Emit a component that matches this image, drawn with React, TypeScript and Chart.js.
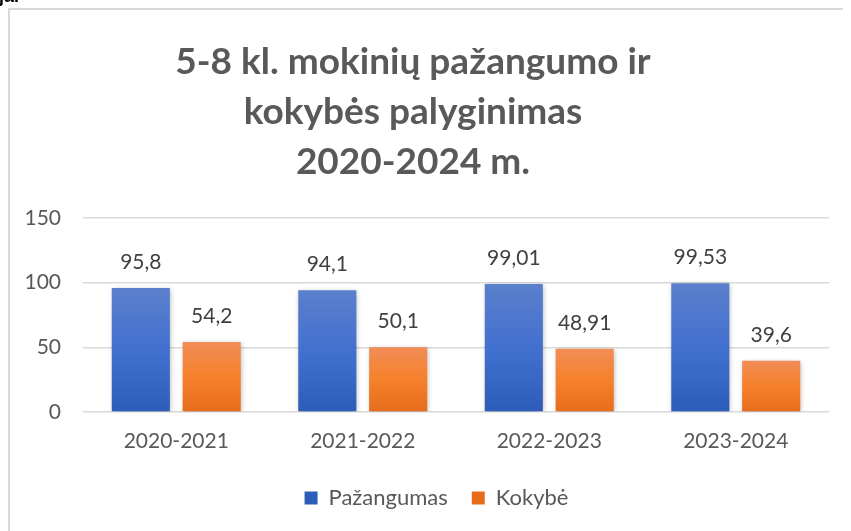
import React, { useEffect, useRef } from "react";
import { Chart, registerables } from "chart.js";

Chart.register(...registerables);

const categories = ["2020-2021", "2021-2022", "2022-2023", "2023-2024"];
const pazangumas = [95.8, 94.1, 99.01, 99.53];
const kokybe = [54.2, 50.1, 48.91, 39.6];
const seriesNames = ["Pažangumas", "Kokybė"];
const titleLines = ["5-8 kl. mokinių pažangumo ir", "kokybės palyginimas", "2020-2024 m."];
const yTicks = { min: 0, max: 150, step: 50 };

const FONT = "Lato, 'Open Sans', sans-serif";
const TEXT = "#595959";

const gradient = (c1: string, c2: string, c3: string) => (ctx: any) => {
  const chart = ctx.chart;
  const y = chart.scales && chart.scales.y;
  if (!y || ctx.type !== "data") return c2;
  const top = y.getPixelForValue(ctx.raw);
  const base = y.getPixelForValue(0);
  if (!isFinite(top) || !isFinite(base) || top === base) return c2;
  const g = chart.ctx.createLinearGradient(0, top, 0, base);
  g.addColorStop(0, c1);
  g.addColorStop(0.5, c2);
  g.addColorStop(1, c3);
  return g;
};

const shadowPlugin = {
  id: "barShadow",
  beforeDatasetsDraw(chart: any) {
    const c = chart.ctx;
    c.save();
    c.shadowColor = "rgba(0,0,0,0.28)";
    c.shadowBlur = 5;
    c.shadowOffsetX = 1;
    c.shadowOffsetY = 1;
  },
  afterDatasetsDraw(chart: any) {
    chart.ctx.restore();
  },
};

const legendShiftPlugin = {
  id: "legendShift",
  afterLayout(chart: any) {
    const l = chart.legend;
    if (l) {
      l.left += 17;
      l.right += 17;
    }
  },
};

const labelPlugin = {
  id: "valueLabels",
  afterDraw(chart: any) {
    const c = chart.ctx;
    c.save();
    c.font = `21px ${FONT}`;
    c.fillStyle = "#404040";
    c.textAlign = "center";
    c.textBaseline = "middle";
    chart.data.datasets.forEach((ds: any, di: number) => {
      const meta = chart.getDatasetMeta(di);
      meta.data.forEach((el: any, i: number) => {
        const txt = String(ds.data[i]).replace(".", ",");
        c.fillText(txt, el.x, el.y - 26);
      });
    });
    c.restore();
  },
};

export default function App() {
  const ref = useRef<HTMLCanvasElement | null>(null);
  useEffect(() => {
    document.body.style.overflow = "hidden";
    const chart = new Chart(ref.current as HTMLCanvasElement, {
      type: "bar",
      data: {
        labels: categories,
        datasets: [
          {
            label: seriesNames[0],
            data: pazangumas,
            backgroundColor: gradient("#5b80cc", "#4270cf", "#2d5db8"),
            borderWidth: 0,
            categoryPercentage: 0.76,
            barPercentage: 0.82,
          },
          {
            label: seriesNames[1],
            data: kokybe,
            backgroundColor: gradient("#f18d57", "#f6812c", "#e66c1b"),
            borderWidth: 0,
            categoryPercentage: 0.76,
            barPercentage: 0.82,
          },
        ],
      },
      options: {
        responsive: false,
        animation: false,
        devicePixelRatio: 1,
        layout: { padding: { top: 208, right: 34, left: 0, bottom: 12 } },
        plugins: {
          title: { display: false },
          tooltip: { enabled: false },
          legend: {
            display: true,
            position: "bottom",
            labels: {
              boxWidth: 13,
              boxHeight: 13,
              padding: 24,
              color: TEXT,
              font: { family: FONT, size: 22 },
            },
          },
        },
        scales: {
          x: {
            grid: { display: false },
            border: { display: false },
            ticks: { color: TEXT, font: { family: FONT, size: 21 }, padding: 9 },
            afterFit: (s: any) => {
              s.height = 51;
            },
          },
          y: {
            min: yTicks.min,
            max: yTicks.max,
            border: { display: false },
            grid: { color: "#d9d9d9", lineWidth: 1.5, drawTicks: false },
            ticks: {
              stepSize: yTicks.step,
              color: TEXT,
              font: { family: FONT, size: 21 },
              padding: 22,
            },
            afterFit: (s: any) => {
              s.width = 73;
            },
          },
        },
      },
      plugins: [shadowPlugin, legendShiftPlugin, labelPlugin],
    });
    return () => chart.destroy();
  }, []);

  return (
    <>
      <div
        style={{
          position: "fixed",
          left: -1,
          top: -14,
          fontFamily: "'Liberation Sans', Arial, sans-serif",
          fontWeight: 700,
          fontSize: 18,
          color: "#000",
          zIndex: 5,
        }}
      >
        ja.
      </div>
      <div
        style={{
          position: "relative",
          width: 843,
          height: 523,
          overflow: "hidden",
          borderLeft: "2px solid #d9d9d9",
          borderTop: "2px solid #d9d9d9",
          boxSizing: "border-box",
          background: "#fff",
        }}
      >
        <div
          style={{
            position: "absolute",
            left: 0,
            top: 25,
            width: 806,
            textAlign: "center",
            fontFamily: FONT,
            fontWeight: 700,
            fontSize: 37,
            lineHeight: "50px",
            color: TEXT,
            zIndex: 2,
          }}
        >
          {titleLines.map((t, i) => (
            <div key={i}>{t}</div>
          ))}
        </div>
        <canvas
          ref={ref}
          width={853}
          height={521}
          style={{ position: "absolute", left: 0, top: 0, width: 853, height: 521 }}
        />
      </div>
    </>
  );
}
